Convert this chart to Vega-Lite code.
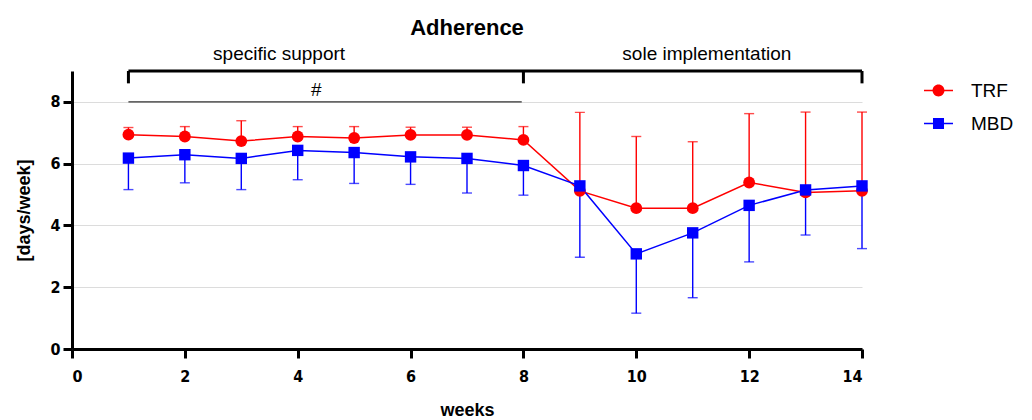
{
  "$schema": "https://vega.github.io/schema/vega-lite/v6.json",
  "autosize": {"type": "none"},
  "width": 790,
  "height": 278,
  "padding": {"left": 72, "top": 71, "right": 170, "bottom": 71},
  "background": "white",
  "title": {"text": "Adherence", "fontSize": 22, "font": "Liberation Sans", "fontWeight": "bold", "color": "black", "anchor": "middle", "offset": 5},
  "config": {"view": {"stroke": null}},
  "datasets": {
    "series": [
      {"week": 1, "group": "TRF", "mean": 6.94, "err": 7.17},
      {"week": 2, "group": "TRF", "mean": 6.88, "err": 7.2},
      {"week": 3, "group": "TRF", "mean": 6.73, "err": 7.39},
      {"week": 4, "group": "TRF", "mean": 6.88, "err": 7.2},
      {"week": 5, "group": "TRF", "mean": 6.83, "err": 7.2},
      {"week": 6, "group": "TRF", "mean": 6.93, "err": 7.18},
      {"week": 7, "group": "TRF", "mean": 6.93, "err": 7.18},
      {"week": 8, "group": "TRF", "mean": 6.77, "err": 7.2},
      {"week": 9, "group": "TRF", "mean": 5.12, "err": 7.66},
      {"week": 10, "group": "TRF", "mean": 4.56, "err": 6.88},
      {"week": 11, "group": "TRF", "mean": 4.56, "err": 6.71},
      {"week": 12, "group": "TRF", "mean": 5.39, "err": 7.62},
      {"week": 13, "group": "TRF", "mean": 5.07, "err": 7.67},
      {"week": 14, "group": "TRF", "mean": 5.12, "err": 7.67},
      {"week": 1, "group": "MBD", "mean": 6.18, "err": 5.16},
      {"week": 2, "group": "MBD", "mean": 6.29, "err": 5.38},
      {"week": 3, "group": "MBD", "mean": 6.17, "err": 5.16},
      {"week": 4, "group": "MBD", "mean": 6.43, "err": 5.48},
      {"week": 5, "group": "MBD", "mean": 6.36, "err": 5.36},
      {"week": 6, "group": "MBD", "mean": 6.22, "err": 5.33},
      {"week": 7, "group": "MBD", "mean": 6.17, "err": 5.05},
      {"week": 8, "group": "MBD", "mean": 5.94, "err": 4.98},
      {"week": 9, "group": "MBD", "mean": 5.28, "err": 2.97},
      {"week": 10, "group": "MBD", "mean": 3.08, "err": 1.16},
      {"week": 11, "group": "MBD", "mean": 3.76, "err": 1.66},
      {"week": 12, "group": "MBD", "mean": 4.65, "err": 2.82},
      {"week": 13, "group": "MBD", "mean": 5.15, "err": 3.69},
      {"week": 14, "group": "MBD", "mean": 5.28, "err": 3.25}
    ],
    "brackets": [
      {"x": 1, "x2": 14, "y": 9, "y2": 9},
      {"x": 1, "x2": 1, "y": 9, "y2": 8.6},
      {"x": 8, "x2": 8, "y": 9, "y2": 8.6},
      {"x": 14, "x2": 14, "y": 9, "y2": 8.6}
    ],
    "sig": [{"x": 1, "x2": 7.97, "y": 8, "y2": 8}],
    "labels": [
      {"label": "specific support", "x": 3.67, "y": 9.37},
      {"label": "sole implementation", "x": 11.25, "y": 9.37},
      {"label": "#", "x": 4.33, "y": 8.2}
    ]
  },
  "encoding": {
    "x": {
      "field": "week", "type": "quantitative",
      "scale": {"domain": [0, 14], "nice": false, "zero": false},
      "axis": {
        "title": "weeks", "values": [0, 2, 4, 6, 8, 10, 12, 14],
        "grid": false, "domainColor": "black", "domainWidth": 3, "tickColor": "black", "tickWidth": 3, "tickSize": 9,
        "labelFont": "DejaVu Sans Condensed, Liberation Sans", "labelFontWeight": "bold", "labelFontSize": 16, "labelColor": "black", "labelPadding": 10,
        "titleFont": "Liberation Sans", "titleFontWeight": "bold", "titleFontSize": 18, "titleColor": "black", "titlePadding": 17
      }
    },
    "y": {
      "field": "mean", "type": "quantitative",
      "scale": {"domain": [0, 9], "nice": false},
      "axis": {
        "title": "[days/week]", "values": [0, 2, 4, 6, 8],
        "grid": true, "gridColor": "#dcdcdc", "gridWidth": 1,
        "domainColor": "black", "domainWidth": 3, "tickColor": "black", "tickWidth": 3, "tickSize": 9,
        "labelFont": "DejaVu Sans Condensed, Liberation Sans", "labelFontWeight": "bold", "labelFontSize": 16, "labelColor": "black", "labelPadding": 3,
        "titleFont": "Liberation Sans", "titleFontWeight": "bold", "titleFontSize": 18, "titleColor": "black", "titlePadding": 16
      }
    },
    "color": {"field": "group", "type": "nominal", "scale": {"domain": ["TRF", "MBD"], "range": ["#ff0000", "#0000ff"]},
      "legend": {"title": null, "orient": "none", "legendX": 852, "legendY": 5, "padding": 0, "labelFont": "Liberation Sans", "labelFontSize": 19, "labelColor": "black", "labelOffset": 18, "rowPadding": 8, "symbolSize": 841, "symbolStrokeWidth": 0, "symbolOpacity": 1}}
  },
  "layer": [
    {
      "data": {"name": "brackets"},
      "mark": {"type": "rule", "color": "black", "strokeWidth": 3},
      "encoding": {"x": {"field": "x", "type": "quantitative"}, "x2": {"field": "x2"}, "y": {"field": "y", "type": "quantitative"}, "y2": {"field": "y2"}, "color": {"value": "black"}}
    },
    {
      "data": {"name": "sig"},
      "mark": {"type": "rule", "strokeWidth": 1.3},
      "encoding": {"x": {"field": "x", "type": "quantitative"}, "x2": {"field": "x2"}, "y": {"field": "y", "type": "quantitative"}, "y2": {"field": "y2"}, "color": {"value": "#333333"}}
    },
    {
      "data": {"name": "labels"},
      "mark": {"type": "text", "font": "Liberation Sans", "fontSize": 19, "baseline": "alphabetic", "align": "center"},
      "encoding": {"x": {"field": "x", "type": "quantitative"}, "y": {"field": "y", "type": "quantitative"}, "text": {"field": "label"}, "color": {"value": "black"}}
    },
    {
      "data": {"name": "series"},
      "mark": {"type": "rule", "strokeWidth": 1.4},
      "encoding": {"y2": {"field": "err"}}
    },
    {
      "data": {"name": "series"},
      "mark": {"type": "tick", "orient": "horizontal", "size": 10, "thickness": 1.4},
      "encoding": {"y": {"field": "err", "type": "quantitative"}}
    },
    {
      "data": {"name": "series"},
      "mark": {"type": "line", "strokeWidth": 1.5}
    },
    {
      "data": {"name": "series"},
      "transform": [{"filter": "datum.group === 'TRF'"}],
      "mark": {"type": "circle", "opacity": 1, "size": 140}
    },
    {
      "data": {"name": "series"},
      "transform": [{"filter": "datum.group === 'MBD'"}],
      "mark": {"type": "square", "opacity": 1, "size": 130}
    },
    {
      "data": {"name": "series"},
      "transform": [{"filter": "datum.week > 100"}],
      "mark": {"type": "point", "filled": true, "opacity": 1},
      "encoding": {
        "shape": {"field": "group", "type": "nominal", "scale": {"domain": ["TRF", "MBD"], "range": [
          "M-1,-0.05L1,-0.05L1,0.05L-1,0.05Z M0.41,0A0.41,0.41 0 1,1 -0.41,0A0.41,0.41 0 1,1 0.41,0Z",
          "M-1,-0.05L1,-0.05L1,0.05L-1,0.05Z M-0.38,-0.38L0.38,-0.38L0.38,0.38L-0.38,0.38Z"
        ]},
          "legend": {"title": null, "orient": "none", "legendX": 852, "legendY": 5, "padding": 0, "labelFont": "Liberation Sans", "labelFontSize": 19, "labelColor": "black", "labelOffset": 18, "rowPadding": 8, "symbolSize": 841, "symbolStrokeWidth": 0, "symbolOpacity": 1}}
      }
    }
  ]
}
